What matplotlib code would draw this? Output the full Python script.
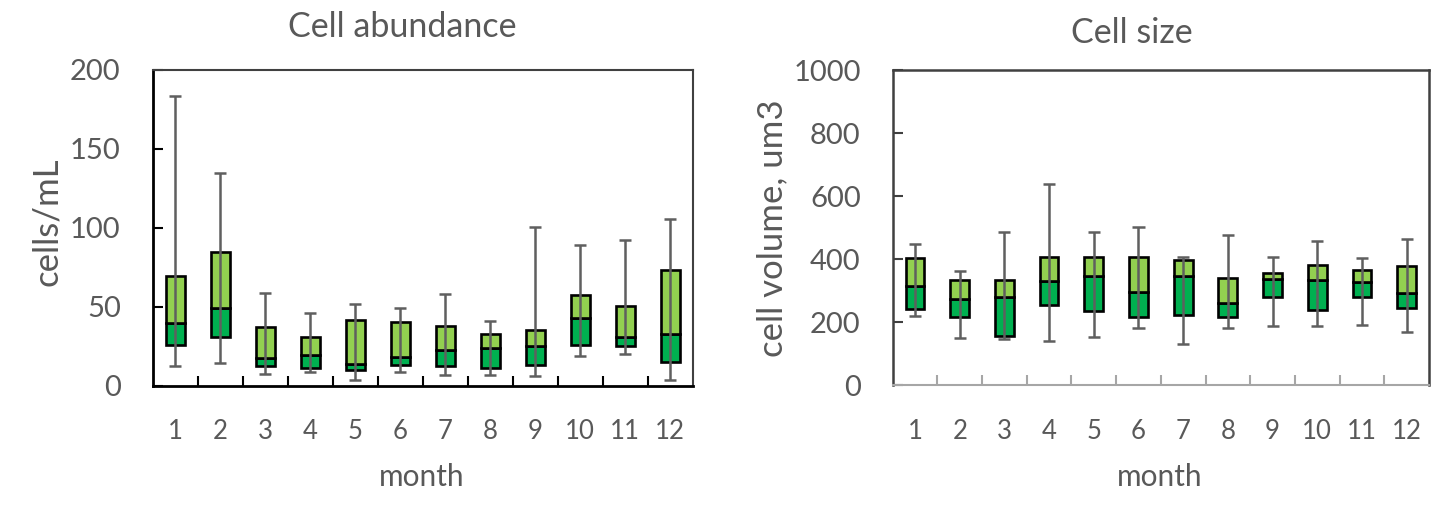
import matplotlib
matplotlib.use("Agg")
import matplotlib.pyplot as plt
from matplotlib.ticker import FixedLocator, NullFormatter

plt.rcParams['font.family'] = ['Lato', 'DejaVu Sans']

months = [1, 2, 3, 4, 5, 6, 7, 8, 9, 10, 11, 12]
month_labels = [str(m) for m in months]

# Cell abundance (cells/mL)
ab_low = [12.4, 14.6, 7.3, 8.6, 3.5, 9.0, 7.0, 7.0, 6.5, 19.2, 20.0, 4.0]
ab_q1 = [25.9, 31.0, 12.8, 11.6, 9.9, 13.3, 12.8, 11.6, 13.3, 25.9, 25.5, 15.4]
ab_med = [39.9, 49.1, 17.7, 19.8, 14.1, 18.1, 22.5, 24.2, 25.1, 42.8, 31.0, 32.9]
ab_q3 = [69.8, 84.6, 37.3, 31.0, 41.5, 40.3, 37.7, 33.1, 35.2, 57.8, 50.4, 73.6]
ab_high = [183.3, 134.8, 58.9, 46.2, 52.1, 49.1, 58.2, 40.9, 100.4, 89.2, 92.6, 105.7]

# Cell size (cell volume, um3)
sz_low = [220, 152, 149, 141, 154, 181, 133, 181, 189, 189, 191, 169]
sz_q1 = [242, 218, 158, 257, 238, 217, 224, 216, 281, 240, 280, 245]
sz_med = [317, 276, 280, 331, 349, 298, 349, 262, 338, 334, 328, 295]
sz_q3 = [404, 334, 336, 409, 409, 409, 398, 340, 357, 384, 366, 379]
sz_high = [448, 362, 488, 641, 486, 502, 409, 477, 408, 458, 406, 466]

TXT = '#595959'
DARK = '#00B050'
LIGHT = '#92D050'
WHISK = '#5f5f5f'

fig = plt.figure(figsize=(14.31, 5.07), dpi=100)

def draw(ax, low, q1, med, q3, high, ymax, ystep):
    w = 0.42
    ax.bar(months, [m - a for a, m in zip(q1, med)], bottom=q1, width=w,
           color=DARK, edgecolor='black', linewidth=1.9, zorder=2)
    ax.bar(months, [b - m for m, b in zip(med, q3)], bottom=med, width=w,
           color=LIGHT, edgecolor='black', linewidth=1.9, zorder=2)
    ax.vlines(months, low, high, color=WHISK, linewidth=1.8, zorder=3)
    ax.hlines(low, [m - 0.135 for m in months], [m + 0.135 for m in months],
              color=WHISK, linewidth=1.8, zorder=3)
    ax.hlines(high, [m - 0.135 for m in months], [m + 0.135 for m in months],
              color=WHISK, linewidth=1.8, zorder=3)
    ax.set_xlim(0.5, 12.5)
    ax.set_ylim(0, ymax)
    ax.set_yticks(list(range(0, ymax + 1, ystep)))
    ax.set_xticks(months)
    ax.set_xticklabels(month_labels)
    ax.xaxis.set_minor_locator(FixedLocator([m + 0.5 for m in months[:-1]]))
    ax.xaxis.set_minor_formatter(NullFormatter())
    ax.tick_params(axis='x', which='major', length=0, pad=24, labelsize=18.5, labelcolor=TXT)
    ax.tick_params(axis='x', which='minor', direction='in', length=7, width=1.5)
    ax.tick_params(axis='y', direction='in', length=7, width=1.5, pad=23,
                   labelsize=21, labelcolor=TXT)

ax1 = fig.add_axes([0.1067, 0.2387, 0.3774, 0.6233])
draw(ax1, ab_low, ab_q1, ab_med, ab_q3, ab_high, 200, 50)
for s in ['left', 'bottom']:
    ax1.spines[s].set_color('black')
    ax1.spines[s].set_linewidth(2.0)
for s in ['top', 'right']:
    ax1.spines[s].set_color('#404040')
    ax1.spines[s].set_linewidth(1.5)
ax1.tick_params(axis='both', which='both', color='black')

ax2 = fig.add_axes([0.6238, 0.2397, 0.3748, 0.6213])
draw(ax2, sz_low, sz_q1, sz_med, sz_q3, sz_high, 1000, 200)
for s in ['left', 'top', 'right']:
    ax2.spines[s].set_color('#404040')
    ax2.spines[s].set_linewidth(1.8)
ax2.spines['bottom'].set_color('#a6a6a6')
ax2.spines['bottom'].set_linewidth(1.5)
ax2.tick_params(axis='y', color='#404040')
ax2.tick_params(axis='x', which='minor', color='#a6a6a6')

fig.text(402 / 1431, 1 - 27 / 507, 'Cell abundance', ha='center', va='center',
         fontsize=24.5, color=TXT)
fig.text(1132 / 1431, 1 - 33 / 507, 'Cell size', ha='center', va='center',
         fontsize=24.5, color=TXT)
fig.text(47 / 1431, 1 - 222 / 507, 'cells/mL', ha='center', va='center',
         rotation=90, fontsize=25, color=TXT)
fig.text(772 / 1431, 1 - 228 / 507, 'cell volume, um3', ha='center', va='center',
         rotation=90, fontsize=25, color=TXT)
fig.text(422 / 1431, 1 - 477 / 507, 'month', ha='center', va='center',
         fontsize=21.5, color=TXT)
fig.text(1160 / 1431, 1 - 477 / 507, 'month', ha='center', va='center',
         fontsize=21.5, color=TXT)

fig.savefig('out.png', dpi=100)
